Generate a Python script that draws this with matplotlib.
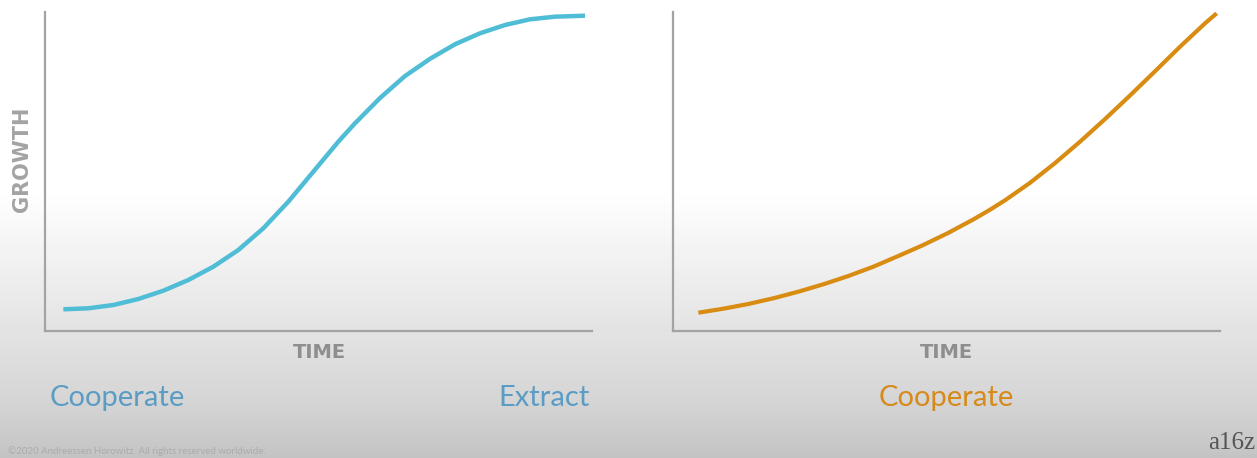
import numpy as np
import matplotlib
matplotlib.use("Agg")
import matplotlib.pyplot as plt

# S-curve (left) and convex curve (right), axes 0..100
left_time = [3.35, 7.92, 12.49, 17.06, 21.63, 26.20, 30.77, 35.34, 39.91, 44.48, 49.05,
             53.62, 56.67, 61.24, 65.81, 70.38, 74.95, 79.52, 84.10, 88.67, 93.24, 98.72]
left_growth = [6.71, 7.03, 8.06, 9.95, 12.55, 15.91, 20.08, 25.32, 32.13, 40.48, 49.89,
               59.30, 65.08, 73.0, 79.9, 85.3, 89.87, 93.32, 95.92, 97.71, 98.53, 98.84]

right_time = [4.63, 9.20, 13.77, 18.34, 22.91, 27.48, 32.05, 36.62, 41.19, 45.76, 50.33,
              54.90, 57.95, 60.69, 65.27, 69.84, 74.41, 78.98, 83.55, 88.12, 92.69, 97.26, 99.40]
right_growth = [5.65, 6.90, 8.38, 10.17, 12.24, 14.56, 17.16, 20.08, 23.44, 26.90, 30.70,
                34.90, 37.95, 40.91, 46.4, 52.6, 59.3, 66.4, 73.8, 81.4, 89.1, 96.45, 99.59]

W, H = 1257, 458
fig = plt.figure(figsize=(W / 100, H / 100), dpi=100)

# background: white on top fading to grey at the bottom
bg = fig.add_axes([0, 0, 1, 1], zorder=-10)
rows = np.arange(H)
shade = np.interp(rows, [0, 190, 330, 400, 458], [1.0, 1.0, 0.89, 0.835, 0.765])
bg.imshow(shade[:, None] * np.ones((1, 2)), cmap="gray", vmin=0, vmax=1,
          aspect="auto", extent=[0, 1, 0, 1], origin="upper")
bg.axis("off")

spine_col = "#a3a3a3"


def make_axes(x0, x1):
    y_top, y_bot = 12, 330.7
    ax = fig.add_axes([x0 / W, (H - y_bot) / H, (x1 - x0) / W, (y_bot - y_top) / H])
    ax.patch.set_alpha(0)
    ax.set_xlim(0, 100)
    ax.set_ylim(0, 100)
    for s in ("top", "right"):
        ax.spines[s].set_visible(False)
    for s in ("left", "bottom"):
        ax.spines[s].set_color(spine_col)
        ax.spines[s].set_linewidth(1.6)
    ax.set_xticks([])
    ax.set_yticks([])
    return ax


ax1 = make_axes(45, 592)
ax1.plot(left_time, left_growth, color="#4fbdd6", lw=3.2,
         solid_capstyle="butt", solid_joinstyle="round")

ax2 = make_axes(673, 1220)
ax2.plot(right_time, right_growth, color="#d98c12", lw=3.0,
         solid_capstyle="butt", solid_joinstyle="round")

label_font = "DejaVu Sans"
fig.text(22 / W, 1 - 159 / H, "GROWTH", rotation=90, ha="center", va="center",
         fontsize=15, fontweight="bold", color="#a3a3a3", family=label_font)
fig.text(319 / W, 1 - 353 / H, "TIME", ha="center", va="center",
         fontsize=14, fontweight="bold", color="#8e8e8e", family=label_font)
fig.text(946 / W, 1 - 353 / H, "TIME", ha="center", va="center",
         fontsize=14, fontweight="bold", color="#8e8e8e", family=label_font)

font = "Lato"
blue = "#5b9cc4"
fig.text(50 / W, 1 - 398 / H, "Cooperate", ha="left", va="center",
         fontsize=21, color=blue, family=font)
fig.text(590 / W, 1 - 398 / H, "Extract", ha="right", va="center",
         fontsize=21, color=blue, family=font)
fig.text(1014 / W, 1 - 398 / H, "Cooperate", ha="right", va="center",
         fontsize=21, color="#d58a1b", family=font)

fig.text(8 / W, 1 - 451 / H, "\u00a92020 Andreessen Horowitz. All rights reserved worldwide.",
         ha="left", va="center", fontsize=7, color="#ababab", family=font)
fig.text(1255 / W, 1 - 443 / H, "a16z", ha="right", va="center",
         fontsize=18, color="#555555", family="Liberation Serif")

fig.savefig("out.png", dpi=100)
